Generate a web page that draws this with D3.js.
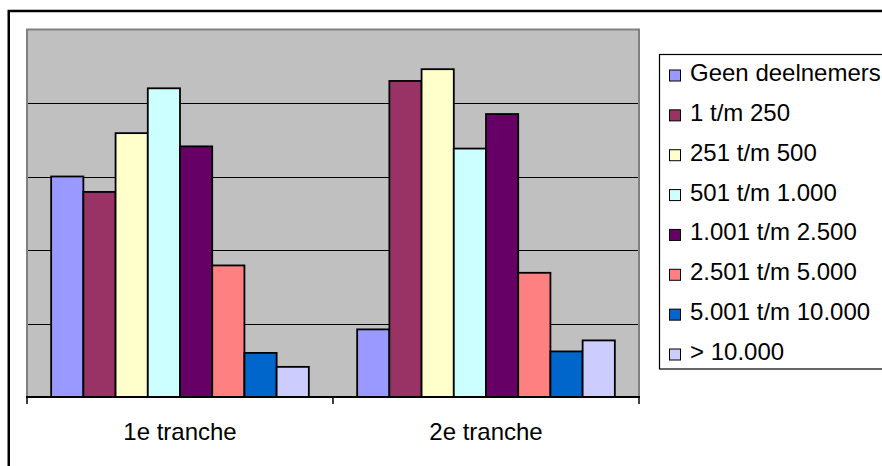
<!DOCTYPE html>
<html>
<head>
<meta charset="utf-8">
<script src="https://cdn.jsdelivr.net/npm/d3@7"></script>
<style>
  html, body { margin: 0; padding: 0; background: #fff; }
  svg { display: block; }
  text { font-family: Arial, "Liberation Sans", sans-serif; fill: #000; }
</style>
</head>
<body>
<svg id="chart" width="882" height="466"></svg>
<script>
// Participants per size class, per tranche
const categories = ["1e tranche", "2e tranche"];
const seriesNames = [
  "Geen deelnemers", "1 t/m 250", "251 t/m 500", "501 t/m 1.000",
  "1.001 t/m 2.500", "2.501 t/m 5.000", "5.001 t/m 10.000", "> 10.000"
];
const tranche1 = [30.0, 27.9, 35.9, 42.0, 34.1, 17.9, 6.0, 4.1];
const tranche2 = [9.2, 43.0, 44.6, 33.8, 38.5, 16.9, 6.2, 7.7];
const seriesColors = [
  "#9999FF", "#993366", "#FFFFCC", "#CCFFFF",
  "#660066", "#FF8080", "#0066CC", "#CCCCFF"
];
const gridTicks = [0, 10, 20, 30, 40, 50];

const values = [tranche1, tranche2];
const svg = d3.select("#chart");

// Outer chart frame (continues past the right and bottom edge)
svg.append("rect")
  .attr("x", 8.75).attr("y", 11)
  .attr("width", 1000).attr("height", 1000)
  .attr("fill", "none").attr("stroke", "#000").attr("stroke-width", 2.5);

const plot = { left: 27, right: 639, top: 29.5, bottom: 397 };

const x0 = d3.scaleBand().domain(categories).range([plot.left, plot.right]).padding(0);
const x1 = d3.scaleBand().domain(seriesNames).range([0, x0.bandwidth()])
  .paddingInner(0).paddingOuter(0.75);
const y = d3.scaleLinear().domain([0, 50]).range([plot.bottom, plot.top]);

// Plot area background
svg.append("rect")
  .attr("x", plot.left).attr("y", plot.top)
  .attr("width", plot.right - plot.left).attr("height", plot.bottom - plot.top)
  .attr("fill", "#C0C0C0");

// Horizontal gridlines
svg.append("g").selectAll("line")
  .data(gridTicks.slice(1, -1))
  .join("line")
  .attr("x1", plot.left).attr("x2", plot.right)
  .attr("y1", d => Math.round(y(d)) + 0.5).attr("y2", d => Math.round(y(d)) + 0.5)
  .attr("stroke", "#000").attr("stroke-width", 1);

// Plot area border (left, top, right)
svg.append("path")
  .attr("d", `M${plot.left},${plot.bottom} V${plot.top} H${plot.right} V${plot.bottom}`)
  .attr("fill", "none").attr("stroke", "#808080").attr("stroke-width", 2);

// Bars
const groups = svg.append("g").selectAll("g")
  .data(categories)
  .join("g")
  .attr("transform", d => `translate(${x0(d)},0)`);

groups.selectAll("rect")
  .data((c, i) => seriesNames.map((s, j) => ({ s, v: values[i][j], color: seriesColors[j] })))
  .join("rect")
  .attr("x", d => x1(d.s))
  .attr("y", d => y(d.v))
  .attr("width", x1.bandwidth())
  .attr("height", d => y(0) - y(d.v))
  .attr("fill", d => d.color)
  .attr("stroke", "#000")
  .attr("stroke-width", 1.8);

// Category axis
const axisG = svg.append("g").attr("transform", `translate(0,${plot.bottom})`);
axisG.append("line")
  .attr("x1", plot.left - 1).attr("x2", plot.right + 1)
  .attr("stroke", "#000").attr("stroke-width", 2);
axisG.selectAll("line.tick")
  .data([plot.left, x0(categories[1]), plot.right])
  .join("line")
  .attr("class", "tick")
  .attr("x1", d => d).attr("x2", d => d)
  .attr("y1", 0).attr("y2", 7)
  .attr("stroke", "#000").attr("stroke-width", 1.5);
axisG.selectAll("text.cat")
  .data(categories)
  .join("text")
  .attr("class", "cat")
  .attr("x", d => x0(d) + x0.bandwidth() / 2)
  .attr("y", 43)
  .attr("text-anchor", "middle")
  .style("font-size", "24px")
  .text(d => d);

// Legend
const legend = svg.append("g");
legend.append("rect")
  .attr("x", 659.5).attr("y", 54.5)
  .attr("width", 400).attr("height", 314.5)
  .attr("fill", "#fff").attr("stroke", "#000").attr("stroke-width", 1.2);

const rowY = d3.scalePoint().domain(seriesNames).range([81, 360]);
const items = legend.selectAll("g.item")
  .data(seriesNames)
  .join("g")
  .attr("class", "item")
  .attr("transform", d => `translate(0,${rowY(d)})`);
items.append("rect")
  .attr("x", 669.5).attr("y", -11)
  .attr("width", 11).attr("height", 11)
  .attr("fill", (d, i) => seriesColors[i])
  .attr("stroke", "#000").attr("stroke-width", 1);
items.append("text")
  .attr("x", 690).attr("y", 0)
  .style("font-size", "24px")
  .text(d => d);
</script>
</body>
</html>
